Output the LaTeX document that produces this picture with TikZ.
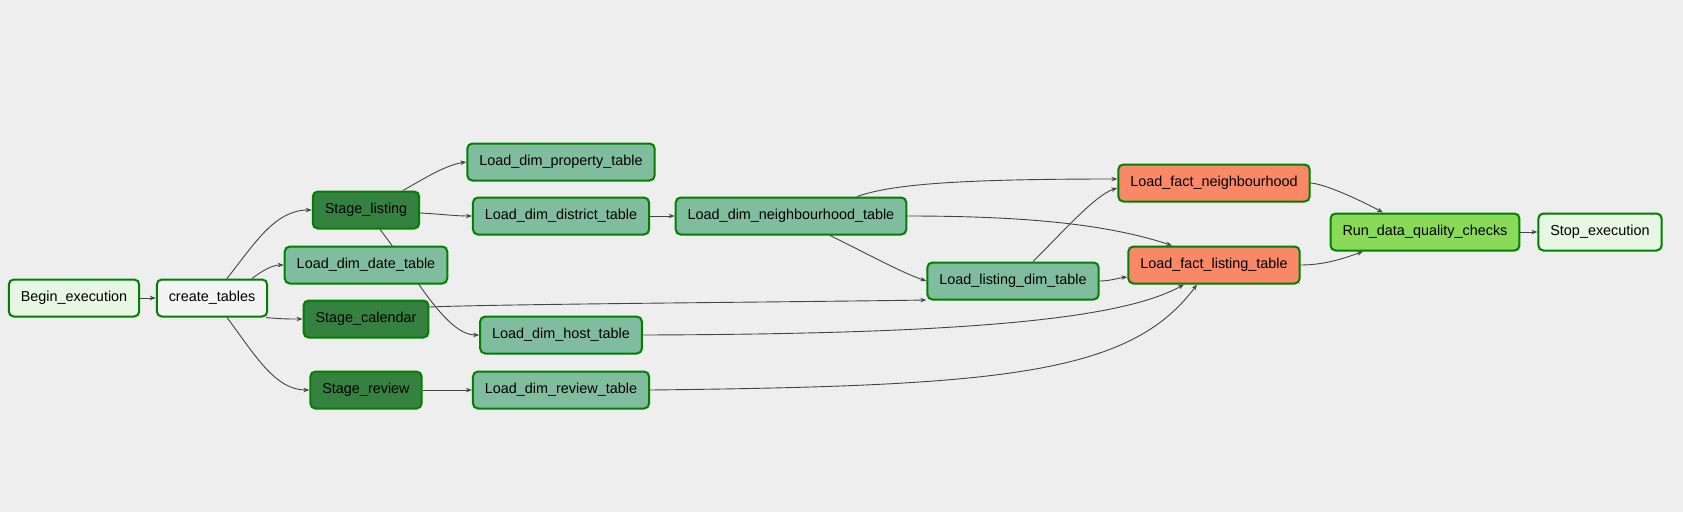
\documentclass[tikz,border=0pt]{standalone}
\usepackage{fontspec}
\setmainfont{Liberation Sans}
\usetikzlibrary{arrows.meta,backgrounds}
\definecolor{canvasbg}{HTML}{EEEEEE}
\definecolor{okgreen}{HTML}{008000}
\definecolor{edgegray}{HTML}{444444}
\definecolor{dummyfill}{HTML}{E8F7E4}
\definecolor{sqlfill}{HTML}{F4F4F4}
\definecolor{stagefill}{HTML}{358140}
\definecolor{dimfill}{HTML}{80BD9E}
\definecolor{factfill}{HTML}{F98866}
\definecolor{checkfill}{HTML}{89DA59}

\begin{document}
\begin{tikzpicture}[x=1pt, y=-1pt,
    task/.style={draw=okgreen, line width=2pt, rounded corners=5pt, minimum height=37pt,
                 inner xsep=12pt, font=\fontsize{14.4}{17}\selectfont, text=black},
    dummytask/.style={task, fill=dummyfill},
    sqltask/.style={task, fill=sqlfill},
    stagetask/.style={task, fill=stagefill},
    dimtask/.style={task, fill=dimfill},
    facttask/.style={task, fill=factfill},
    checktask/.style={task, fill=checkfill},
    edge/.style={draw=edgegray, line width=0.9pt, -{Stealth[length=6pt,width=4.5pt]}}]

    % Start and table creation
    \node[dummytask] (begin) at (74,298) {Begin\_execution};
    \node[sqltask] (create) at (212,298) {create\_tables};

    % Staging and date dimension
    \node[stagetask] (stlist) at (366,210) {Stage\_listing};
    \node[dimtask] (datetab) at (366,265) {Load\_dim\_date\_table};
    \node[stagetask] (stcal) at (366,319) {Stage\_calendar};
    \node[stagetask] (strev) at (366,390) {Stage\_review};

    % Dimension tables
    \node[dimtask] (proptab) at (561,162) {Load\_dim\_property\_table};
    \node[dimtask] (disttab) at (561,216) {Load\_dim\_district\_table};
    \node[dimtask] (hosttab) at (561,335) {Load\_dim\_host\_table};
    \node[dimtask] (revtab) at (561,390) {Load\_dim\_review\_table};
    \node[dimtask] (nbhtab) at (791,216) {Load\_dim\_neighbourhood\_table};
    \node[dimtask] (listdim) at (1013,281) {Load\_listing\_dim\_table};

    % Fact tables
    \node[facttask] (factnbh) at (1214,183) {Load\_fact\_neighbourhood};
    \node[facttask] (factlist) at (1214,265) {Load\_fact\_listing\_table};

    % Checks and end
    \node[checktask] (dq) at (1425,232) {Run\_data\_quality\_checks};
    \node[dummytask] (stop) at (1600,232) {Stop\_execution};

    \begin{scope}[on background layer]
        \fill[canvasbg] (0,0) rectangle (1683,512);

        % Straight hand-offs
        \foreach \a/\b in {begin/create, disttab/nbhtab, strev/revtab, dq/stop}
            \draw[edge] (\a.east) -- (\b.west);

        % Out of create_tables
        \draw[edge] ([xshift=15pt]create.north) .. controls (255,243) and (275,210) .. (stlist.west);
        \draw[edge] ([xshift=40pt]create.north) .. controls (262,271) and (272,265) .. (datetab.west);
        \draw[edge] ([xshift=-2pt]create.south east) .. controls (280,319) and (290,319) .. (stcal.west);
        \draw[edge] ([xshift=15pt]create.south) .. controls (255,355) and (275,390) .. (strev.west);

        % Out of the stages
        \draw[edge] ([xshift=37pt]stlist.north) .. controls (420,181) and (445,165) .. (proptab.west);
        \draw[edge] ([yshift=-3pt]stlist.east) .. controls (440,214) and (455,216) .. (disttab.west);
        \draw[edge] ([xshift=14pt]stlist.south) .. controls (412,270) and (445,335) .. (hosttab.west);
        \draw[edge] ([yshift=12pt]stcal.east) .. controls (500,304) and (800,302) .. ([yshift=-19pt]listdim.west);

        % Neighbourhood table
        \draw[edge] ([xshift=66pt]nbhtab.north) .. controls (890,185) and (950,179) .. ([yshift=4pt]factnbh.west);
        \draw[edge] (nbhtab.east) .. controls (1030,216) and (1110,225) .. ([xshift=-42pt]factlist.north);
        \draw[edge] ([xshift=39pt]nbhtab.south) .. controls (860,250) and (900,272) .. (listdim.west);

        % Into the fact tables
        \draw[edge] ([xshift=20pt]listdim.north) .. controls (1060,235) and (1095,195) .. ([yshift=-5pt]factnbh.west);
        \draw[edge] (listdim.east) .. controls (1110,281) and (1118,278) .. ([yshift=-12pt]factlist.west);
        \draw[edge] (hosttab.east) .. controls (960,334) and (1120,320) .. ([xshift=-30pt]factlist.south);
        \draw[edge] (revtab.east) .. controls (1000,386) and (1130,375) .. ([xshift=-17pt]factlist.south);

        % Quality checks
        \draw[edge] (factnbh.east) .. controls (1325,184) and (1360,200) .. ([xshift=-42pt]dq.north);
        \draw[edge] (factlist.east) .. controls (1325,265) and (1345,258) .. ([xshift=-62pt]dq.south);
    \end{scope}
\end{tikzpicture}
\end{document}
